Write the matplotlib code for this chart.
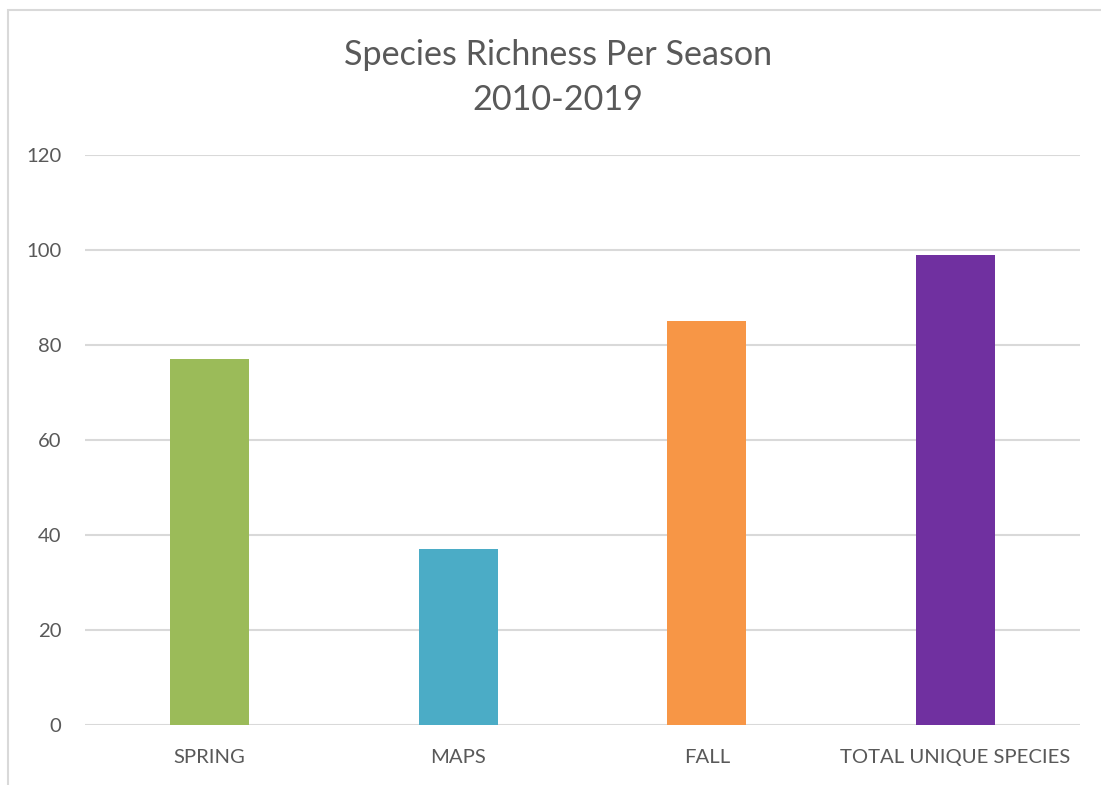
import matplotlib.pyplot as plt
from matplotlib.patches import Rectangle

categories = ['SPRING', 'MAPS', 'FALL', 'TOTAL UNIQUE SPECIES']
species_counts = [77, 37, 85, 99]
bar_colors = ['#9BBB59', '#4BACC6', '#F79646', '#7030A0']
y_ticks = [0, 20, 40, 60, 80, 100, 120]

W, H = 1101, 785
text_color = '#595959'
plt.rcParams['font.family'] = ['Lato', 'DejaVu Sans']

fig = plt.figure(figsize=(W / 100, H / 100), dpi=100)

# chart border (cropped on the right and bottom like the original)
fig.patches.append(Rectangle((8 / W, -0.05), 1.2, 1 - 10 / H + 0.05,
                             transform=fig.transFigure, fill=False,
                             edgecolor='#D9D9D9', linewidth=1.5))

ax = fig.add_axes([85 / W, (H - 725) / H, (1080 - 85) / W, (725 - 155) / H])
x = range(len(categories))
ax.bar(x, species_counts, width=0.318, color=bar_colors, zorder=3)

ax.set_xlim(-0.5, len(categories) - 0.5)
ax.set_ylim(0, 120)
ax.set_yticks(y_ticks)
ax.set_xticks(list(x))
ax.set_xticklabels(categories)
ax.grid(axis='y', color='#D9D9D9', linewidth=1.5, zorder=0)
for s in ax.spines.values():
    s.set_visible(False)
ax.tick_params(length=0, colors=text_color, labelsize=14.6)
ax.tick_params(axis='y', pad=17)
ax.tick_params(axis='x', pad=17)

fig.text(558 / W, 1 - 55 / H, 'Species Richness Per Season', ha='center', va='center',
         fontsize=24.6, color=text_color)
fig.text(558 / W, 1 - 100 / H, '2010-2019', ha='center', va='center',
         fontsize=24.6, color=text_color)

fig.savefig('out.png', dpi=100)
